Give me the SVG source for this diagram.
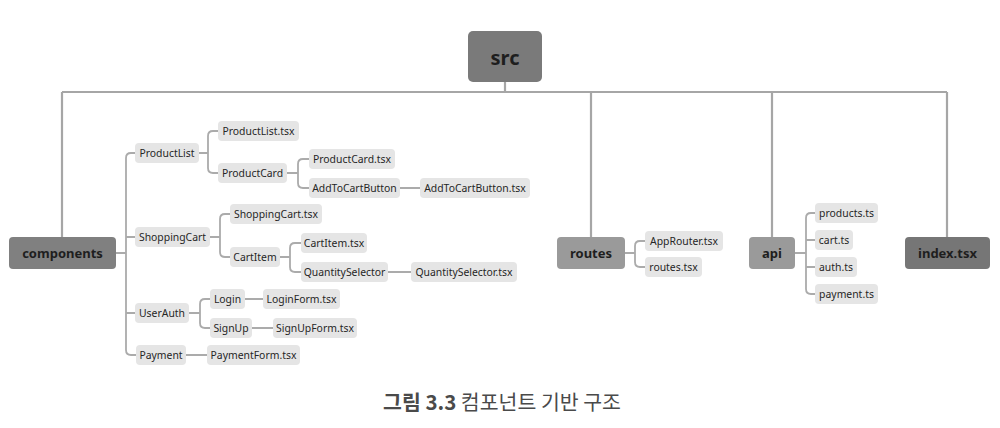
<svg xmlns="http://www.w3.org/2000/svg" width="1000" height="428" viewBox="0 0 1000 428">
<style>
.bg{fill:#ffffff}
.ln{fill:none;stroke:#ababab;stroke-width:1.8;stroke-linecap:round}
.lnm{fill:none;stroke:#a6a6a6;stroke-width:2.2}
.c rect{fill:#e5e5e5;rx:4}
.c text{font-family:"Noto Sans","DejaVu Sans",sans-serif;font-size:10.4px;fill:#262626;text-anchor:middle;dominant-baseline:central}
.top text{font-family:"Noto Sans","DejaVu Sans",sans-serif;font-weight:bold;font-size:13px;fill:#1e1e1e;text-anchor:middle;dominant-baseline:central}
.cap{font-family:"Noto Sans CJK KR","Noto Sans",sans-serif;font-size:20.5px;fill:#4a4a4a;text-anchor:middle}
</style>
<rect class="bg" x="0" y="0" width="1000" height="428"/>
<g id="connectors">
<path class="lnm" d="M505 82 V92 M62 92 H947 M62 92 V237 M591 92 V237 M772 92 V237 M947 92 V237"/>
<path class="ln" d="M116 253 H126 M136 153 H131 Q126 153 126 158 V350 Q126 355 131 355 H136 M126 237 H135 M126 313 H135"/>
<path class="ln" d="M199 153 H208 M218 131 H213 Q208 131 208 136 V168 Q208 173 213 173 H218"/>
<path class="ln" d="M287 173 H298 M309 159 H303 Q298 159 298 164 V183 Q298 188 303 188 H309"/>
<path class="ln" d="M400 188 H420"/>
<path class="ln" d="M210 237 H220 M230 214 H225 Q220 214 220 219 V252 Q220 257 225 257 H230"/>
<path class="ln" d="M280 257 H290 M301 243 H295 Q290 243 290 248 V267 Q290 272 295 272 H301"/>
<path class="ln" d="M388 272 H411"/>
<path class="ln" d="M189 313 H200 M210 299 H205 Q200 299 200 304 V323 Q200 328 205 328 H210"/>
<path class="ln" d="M245 299 H263 M252 328 H273"/>
<path class="ln" d="M186 355 H207"/>
<path class="ln" d="M625 253 H635 M645 241 H640 Q635 241 635 246 V262 Q635 267 640 267 H645"/>
<path class="ln" d="M795 253 H806 M815 213 H811 Q806 213 806 218 V289 Q806 294 811 294 H815 M806 240 H815 M806 267 H815"/>
</g>
<g id="src" class="top"><rect x="468" y="31" width="74" height="51" rx="5" fill="#7a7a7a"/><text x="505" y="57" style="font-size:20px">src</text></g>
<g id="components" class="top"><rect x="9" y="237" width="107" height="32" rx="4" fill="#808080"/><text x="62.5" y="253">components</text></g>
<g id="routes" class="top"><rect x="557" y="237" width="68" height="32" rx="4" fill="#9a9a9a"/><text x="591" y="253">routes</text></g>
<g id="api" class="top"><rect x="749" y="237" width="46" height="32" rx="4" fill="#9a9a9a"/><text x="772" y="253">api</text></g>
<g id="index" class="top"><rect x="905" y="237" width="85" height="32" rx="4" fill="#767676"/><text x="947.5" y="253">index.tsx</text></g>
<g id="ProductList" class="c"><rect x="135" y="143" width="64" height="20"/><text x="167" y="153">ProductList</text></g>
<g id="ProductListTsx" class="c"><rect x="218" y="121" width="81" height="20"/><text x="258.5" y="131">ProductList.tsx</text></g>
<g id="ProductCard" class="c"><rect x="218" y="163" width="69" height="20"/><text x="252.5" y="173">ProductCard</text></g>
<g id="ProductCardTsx" class="c"><rect x="309" y="149" width="86" height="20"/><text x="352" y="159">ProductCard.tsx</text></g>
<g id="AddToCartButton" class="c"><rect x="309" y="178" width="91" height="20"/><text x="354.5" y="188">AddToCartButton</text></g>
<g id="AddToCartButtonTsx" class="c"><rect x="420" y="178" width="110" height="20"/><text x="475" y="188">AddToCartButton.tsx</text></g>
<g id="ShoppingCart" class="c"><rect x="135" y="227" width="75" height="20"/><text x="172.5" y="237">ShoppingCart</text></g>
<g id="ShoppingCartTsx" class="c"><rect x="230" y="204" width="92" height="20"/><text x="276" y="214">ShoppingCart.tsx</text></g>
<g id="CartItem" class="c"><rect x="230" y="247" width="50" height="20"/><text x="255" y="257">CartItem</text></g>
<g id="CartItemTsx" class="c"><rect x="301" y="233" width="66" height="20"/><text x="334" y="243">CartItem.tsx</text></g>
<g id="QuantitySelector" class="c"><rect x="301" y="262" width="87" height="20"/><text x="344.5" y="272">QuantitySelector</text></g>
<g id="QuantitySelectorTsx" class="c"><rect x="411" y="262" width="106" height="20"/><text x="464" y="272">QuantitySelector.tsx</text></g>
<g id="UserAuth" class="c"><rect x="135" y="303" width="54" height="20"/><text x="162" y="313">UserAuth</text></g>
<g id="Login" class="c"><rect x="210" y="289" width="35" height="20"/><text x="227.5" y="299">Login</text></g>
<g id="LoginFormTsx" class="c"><rect x="263" y="289" width="77" height="20"/><text x="301.5" y="299">LoginForm.tsx</text></g>
<g id="SignUp" class="c"><rect x="210" y="318" width="42" height="20"/><text x="231" y="328">SignUp</text></g>
<g id="SignUpFormTsx" class="c"><rect x="273" y="318" width="84" height="20"/><text x="315" y="328">SignUpForm.tsx</text></g>
<g id="Payment" class="c"><rect x="136" y="345" width="50" height="20"/><text x="161" y="355">Payment</text></g>
<g id="PaymentFormTsx" class="c"><rect x="207" y="345" width="93" height="20"/><text x="253.5" y="355">PaymentForm.tsx</text></g>
<g id="AppRouterTsx" class="c"><rect x="645" y="231" width="78" height="20"/><text x="684" y="241">AppRouter.tsx</text></g>
<g id="routesTsx" class="c"><rect x="645" y="257" width="57" height="20"/><text x="673.5" y="267">routes.tsx</text></g>
<g id="productsTs" class="c"><rect x="815" y="203" width="63" height="20"/><text x="846.5" y="213">products.ts</text></g>
<g id="cartTs" class="c"><rect x="815" y="230" width="38" height="20"/><text x="834" y="240">cart.ts</text></g>
<g id="authTs" class="c"><rect x="815" y="257" width="42" height="20"/><text x="836" y="267">auth.ts</text></g>
<g id="paymentTs" class="c"><rect x="815" y="284" width="63" height="20"/><text x="846.5" y="294">payment.ts</text></g>
<text class="cap" x="502" y="410"><tspan font-weight="bold">그림 3.3</tspan> 컴포넌트 기반 구조</text>
</svg>
